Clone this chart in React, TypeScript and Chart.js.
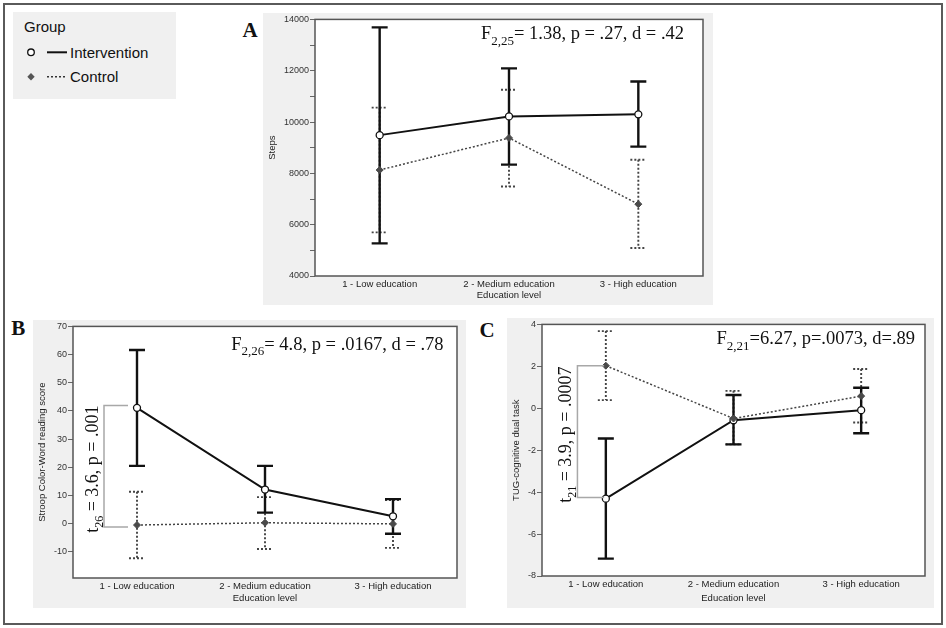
import React, { useEffect, useRef } from 'react';
import { Chart, registerables } from 'chart.js';

Chart.register(...registerables);

const SANS = '"Liberation Sans", Arial, Helvetica, sans-serif';
const SERIF = '"Liberation Serif", "Times New Roman", serif';

// ---------- data ----------
const educationLevels = ['1 - Low education', '2 - Medium education', '3 - High education'];
const groupLabels = ['Intervention', 'Control'];

// Panel A – Steps
const stepsIntMean = [9490, 10220, 10300];
const stepsIntLow = [5270, 8340, 9040];
const stepsIntHigh = [13690, 12090, 11580];
const stepsCtlMean = [8130, 9380, 6800];
const stepsCtlLow = [5700, 7490, 5090];
const stepsCtlHigh = [10560, 11260, 8530];
const stepsRange = [4000, 14000];
const statA = ['F', '2,25', '= 1.38, p = .27, d = .42'];

// Panel B – Stroop Color-Word reading score
const stroopIntMean = [41.1, 12.1, 2.6];
const stroopIntLow = [20.5, 3.9, -3.6];
const stroopIntHigh = [61.6, 20.5, 8.7];
const stroopCtlMean = [-0.5, 0.3, -0.1];
const stroopCtlLow = [-12.3, -9.0, -8.6];
const stroopCtlHigh = [11.3, 9.4, 8.4];
const stroopRange = [-19.3, 70];
const statB = ['F', '2,26', '= 4.8, p = .0167, d = .78'];
const tTestB = ['t', '26', ' = 3.6, p = .001'];
const bracketB = [41.95, -1.2];

// Panel C – TUG-cognitive dual task
const tugIntMean = [-4.31, -0.57, -0.09];
const tugIntLow = [-7.17, -1.72, -1.19];
const tugIntHigh = [-1.44, 0.63, 0.98];
const tugCtlMean = [2.03, -0.49, 0.58];
const tugCtlLow = [0.39, -1.72, -0.68];
const tugCtlHigh = [3.68, 0.83, 1.87];
const tugRange = [-8, 4];
const statC = ['F', '2,21', '=6.27, p=.0073, d=.89'];
const tTestC = ['t', '21', ' = 3.9, p = .0007'];
const bracketC = [2.03, -4.26];

// ---------- drawing helpers ----------
function drawSubText(ctx: CanvasRenderingContext2D, parts: string[], x: number, baseline: number, size: number, align: 'right' | 'center') {
  const big = `${size}px ${SERIF}`;
  const small = `${Math.round(size * 0.68)}px ${SERIF}`;
  ctx.font = big;
  const w1 = ctx.measureText(parts[0]).width;
  const w3 = ctx.measureText(parts[2]).width;
  ctx.font = small;
  const w2 = ctx.measureText(parts[1]).width;
  const total = w1 + w2 + w3;
  const start = align === 'right' ? x - total : x - total / 2;
  ctx.fillStyle = '#111';
  ctx.textAlign = 'left';
  ctx.textBaseline = 'alphabetic';
  ctx.font = big;
  ctx.fillText(parts[0], start, baseline);
  ctx.font = small;
  ctx.fillText(parts[1], start + w1, baseline + size * 0.28);
  ctx.font = big;
  ctx.fillText(parts[2], start + w1 + w2, baseline);
}

function drawErrorBars(chart: any, low: number[], high: number[], color: string, width: number, dash: number[]) {
  const { ctx, scales } = chart;
  const xs = scales.x;
  const ys = scales.y;
  ctx.save();
  ctx.strokeStyle = color;
  ctx.lineWidth = width;
  ctx.setLineDash(dash);
  for (let i = 0; i < low.length; i++) {
    const px = xs.getPixelForValue(i);
    const pLo = ys.getPixelForValue(low[i]);
    const pHi = ys.getPixelForValue(high[i]);
    ctx.beginPath();
    ctx.moveTo(px, pHi);
    ctx.lineTo(px, pLo);
    ctx.moveTo(px - 8, pHi);
    ctx.lineTo(px + 8, pHi);
    ctx.moveTo(px - 8, pLo);
    ctx.lineTo(px + 8, pLo);
    ctx.stroke();
  }
  ctx.restore();
}

type Spec = {
  id: string;
  left: number; top: number; w: number; h: number;
  yW: number; xH: number; padTop: number; padRight: number;
  range: number[]; step: number; labelStep: number;
  yTitle: string;
  intMean: number[]; intLow: number[]; intHigh: number[];
  ctlMean: number[]; ctlLow: number[]; ctlHigh: number[];
  stat: string[]; statRight: number; statBase: number;
  tTest?: string[]; bracket?: number[]; bracketL?: number; bracketR?: number;
};

function makePlugin(spec: Spec) {
  return {
    id: 'panel' + spec.id,
    beforeDraw(chart: any) {
      const { ctx, chartArea: a } = chart;
      ctx.save();
      ctx.fillStyle = '#ffffff';
      ctx.fillRect(a.left, a.top, a.right - a.left, a.bottom - a.top);
      ctx.restore();
    },
    beforeDatasetsDraw(chart: any) {
      drawErrorBars(chart, spec.ctlLow, spec.ctlHigh, '#444', 1.9, [2, 2]);
      drawErrorBars(chart, spec.intLow, spec.intHigh, '#111', 2.4, []);
    },
    afterDraw(chart: any) {
      const { ctx, chartArea: a, scales } = chart;
      ctx.save();
      ctx.strokeStyle = '#555';
      ctx.lineWidth = 1.5;
      ctx.strokeRect(a.left, a.top, a.right - a.left, a.bottom - a.top);
      drawSubText(ctx, spec.stat, a.right - spec.statRight, a.top + spec.statBase, 18.5, 'right');
      if (spec.tTest && spec.bracket) {
        const ax = scales.x.getPixelForValue(0);
        const yTop = scales.y.getPixelForValue(spec.bracket[0]);
        const yBot = scales.y.getPixelForValue(spec.bracket[1]);
        const xL = ax - (spec.bracketL as number);
        const xR = ax - (spec.bracketR as number);
        ctx.strokeStyle = '#a8a8a8';
        ctx.lineWidth = 1.5;
        ctx.setLineDash([]);
        ctx.beginPath();
        ctx.moveTo(xR, yTop);
        ctx.lineTo(xL, yTop);
        ctx.lineTo(xL, yBot);
        ctx.lineTo(xR, yBot);
        ctx.stroke();
        ctx.translate(xL - 6, (yTop + yBot) / 2 + 3);
        ctx.rotate(-Math.PI / 2);
        drawSubText(ctx, spec.tTest, 0, 0, 18, 'center');
      }
      ctx.restore();
    },
  };
}

function buildConfig(spec: Spec): any {
  return {
    type: 'line',
    data: {
      labels: educationLevels,
      datasets: [
        {
          label: groupLabels[1],
          data: spec.ctlMean,
          borderColor: '#444',
          borderWidth: 1.5,
          borderDash: [2, 2],
          pointStyle: 'rectRot',
          pointRadius: 3.5,
          pointBackgroundColor: '#4a4a4a',
          pointBorderColor: '#4a4a4a',
          pointBorderWidth: 1,
          tension: 0,
          fill: false,
        },
        {
          label: groupLabels[0],
          data: spec.intMean,
          borderColor: '#111',
          borderWidth: 2,
          pointStyle: 'circle',
          pointRadius: 3.5,
          pointBackgroundColor: '#ffffff',
          pointBorderColor: '#111',
          pointBorderWidth: 1.3,
          tension: 0,
          fill: false,
        },
      ],
    },
    options: {
      responsive: false,
      animation: false,
      devicePixelRatio: 1,
      events: [],
      layout: { padding: { top: spec.padTop, right: spec.padRight, left: 0, bottom: 0 } },
      plugins: { legend: { display: false }, tooltip: { enabled: false } },
      scales: {
        x: {
          type: 'category',
          offset: true,
          grid: { display: false, drawTicks: false },
          border: { display: false },
          ticks: { font: { family: SANS, size: 9.5 }, color: '#222', padding: 3, maxRotation: 0, autoSkip: false },
          title: { display: true, text: 'Education level', font: { family: SANS, size: 9.5 }, color: '#222', padding: { top: 0, bottom: 4 } },
          afterFit: (s: any) => { s.height = spec.xH; },
        },
        y: {
          type: 'linear',
          min: spec.range[0],
          max: spec.range[1],
          ticks: {
            stepSize: spec.step,
            includeBounds: false,
            font: { family: SANS, size: 9 },
            color: '#333',
            padding: 1,
            callback: (v: number) => (Math.abs(v % spec.labelStep) < 1e-9 ? String(v) : ''),
          },
          grid: { drawOnChartArea: false, drawTicks: true, tickLength: 5, color: '#666', lineWidth: 1 },
          border: { display: false },
          title: { display: true, text: spec.yTitle, font: { family: SANS, size: 9.5 }, color: '#222', padding: { top: 4, bottom: 2 } },
          afterFit: (s: any) => { s.width = spec.yW; },
        },
      },
    },
    plugins: [makePlugin(spec)],
  };
}

const specA: Spec = {
  id: 'A', left: 263, top: 13, w: 450, h: 292, yW: 52, xH: 29, padTop: 6, padRight: 10,
  range: stepsRange, step: 1000, labelStep: 2000, yTitle: 'Steps',
  intMean: stepsIntMean, intLow: stepsIntLow, intHigh: stepsIntHigh,
  ctlMean: stepsCtlMean, ctlLow: stepsCtlLow, ctlHigh: stepsCtlHigh,
  stat: statA, statRight: 19, statBase: 20,
};

const specB: Spec = {
  id: 'B', left: 33, top: 320, w: 433, h: 288, yW: 40, xH: 30, padTop: 6, padRight: 9,
  range: stroopRange, step: 10, labelStep: 10, yTitle: 'Stroop Color-Word reading score',
  intMean: stroopIntMean, intLow: stroopIntLow, intHigh: stroopIntHigh,
  ctlMean: stroopCtlMean, ctlLow: stroopCtlLow, ctlHigh: stroopCtlHigh,
  stat: statB, statRight: 13.4, statBase: 23.6,
  tTest: tTestB, bracket: bracketB, bracketL: 33, bracketR: 9,
};

const specC: Spec = {
  id: 'C', left: 507, top: 318, w: 427, h: 290, yW: 35, xH: 32, padTop: 6, padRight: 9,
  range: tugRange, step: 2, labelStep: 2, yTitle: 'TUG-cognitive dual task',
  intMean: tugIntMean, intLow: tugIntLow, intHigh: tugIntHigh,
  ctlMean: tugCtlMean, ctlLow: tugCtlLow, ctlHigh: tugCtlHigh,
  stat: statC, statRight: 10, statBase: 20,
  tTest: tTestC, bracket: bracketC, bracketL: 28.4, bracketR: 1.7,
};

function Panel({ spec }: { spec: Spec }) {
  const ref = useRef<HTMLCanvasElement | null>(null);
  useEffect(() => {
    if (!ref.current) return;
    const chart = new Chart(ref.current, buildConfig(spec));
    return () => chart.destroy();
  }, [spec]);
  return (
    <canvas
      ref={ref}
      width={spec.w}
      height={spec.h}
      style={{ position: 'absolute', left: spec.left, top: spec.top, width: spec.w, height: spec.h, background: '#f0f0f0' }}
    />
  );
}

function Legend() {
  return (
    <svg width={163} height={87} style={{ position: 'absolute', left: 13, top: 12 }}>
      <rect x={0} y={0} width={163} height={87} fill="#f0f0f0" />
      <text x={11} y={20} fontFamily={SANS} fontSize={15} fill="#111">Group</text>
      <circle cx={18} cy={40.3} r={3.3} fill="#fff" stroke="#111" strokeWidth={1.3} />
      <line x1={34} y1={40.3} x2={54} y2={40.3} stroke="#111" strokeWidth={2} />
      <text x={57} y={45.5} fontFamily={SANS} fontSize={15} fill="#111">{groupLabels[0]}</text>
      <polygon points="18,61 21.7,64.7 18,68.4 14.3,64.7" fill="#555" />
      <line x1={34} y1={64.7} x2={54} y2={64.7} stroke="#333" strokeWidth={1.5} strokeDasharray="2,2" />
      <text x={57} y={70} fontFamily={SANS} fontSize={15} fill="#111">{groupLabels[1]}</text>
    </svg>
  );
}

const letterStyle = (left: number, top: number): React.CSSProperties => ({
  position: 'absolute', left, top, fontFamily: SERIF, fontWeight: 'bold', fontSize: 21, lineHeight: '21px', color: '#111',
});

export default function App() {
  return (
    <div style={{ position: 'absolute', left: 0, top: 0, width: 946, height: 628, background: '#fff', overflow: 'hidden' }}>
      <div style={{ position: 'absolute', left: 3, top: 3, width: 940, height: 622, boxSizing: 'border-box', border: '2px solid #5a5a5a' }} />
      <Legend />
      <div style={letterStyle(242.4, 20.4)}>A</div>
      <div style={letterStyle(11.3, 318.4)}>B</div>
      <div style={letterStyle(479.4, 320.4)}>C</div>
      <Panel spec={specA} />
      <Panel spec={specB} />
      <Panel spec={specC} />
    </div>
  );
}
